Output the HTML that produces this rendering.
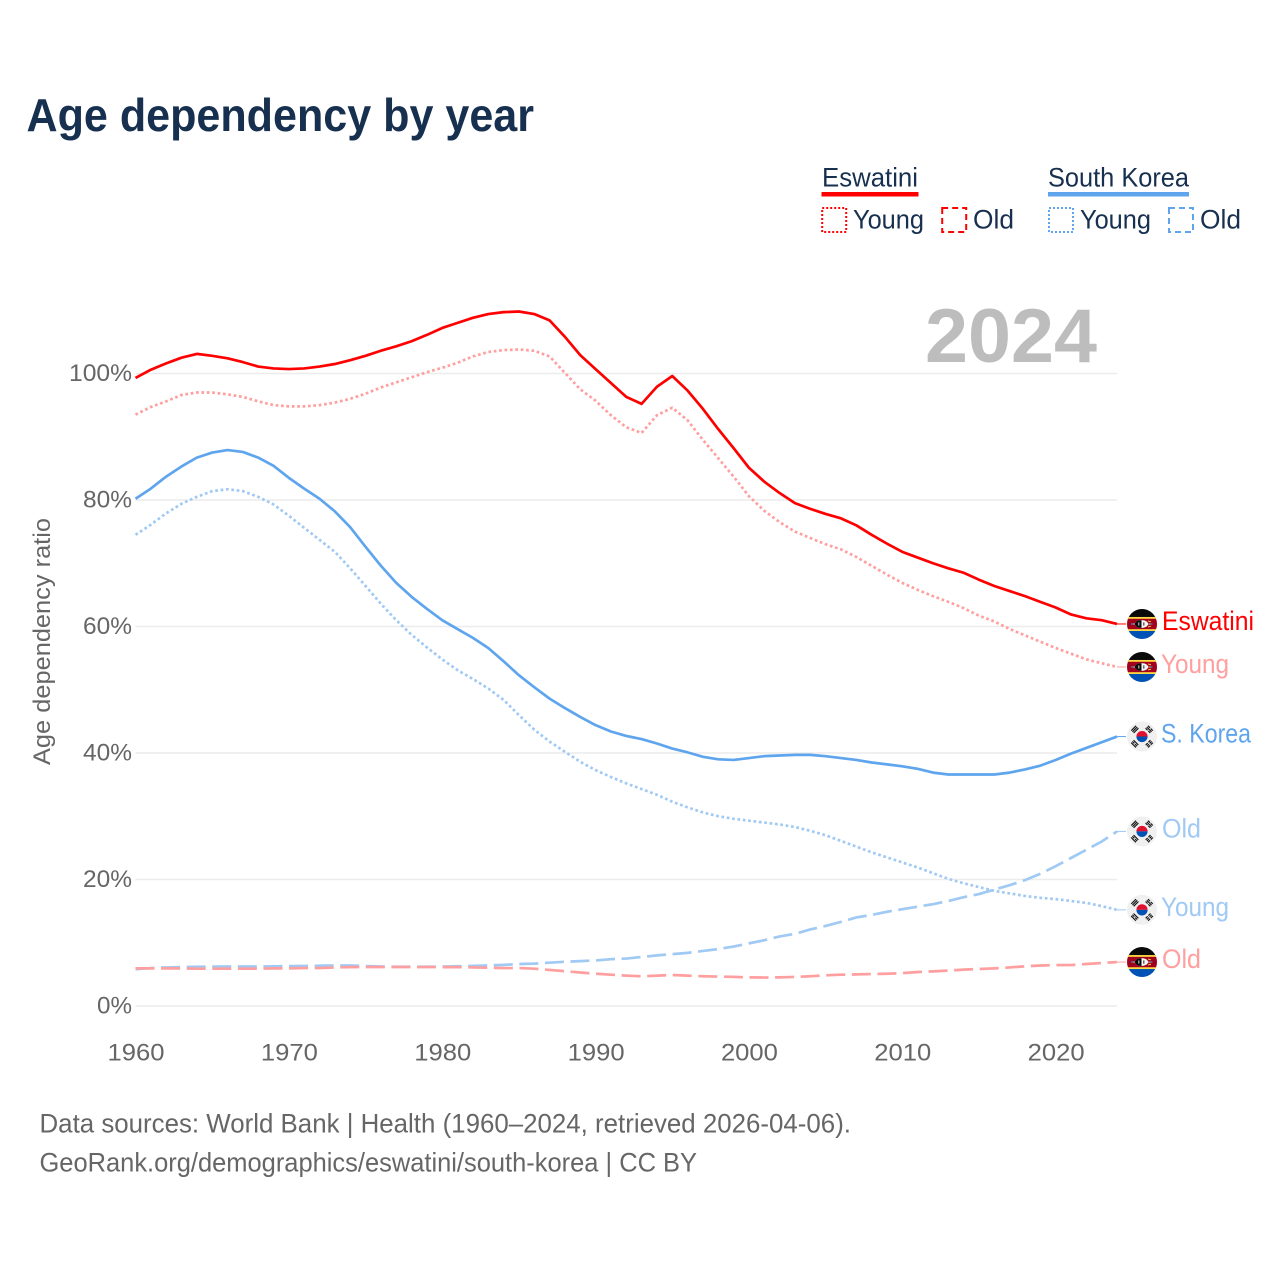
<!DOCTYPE html>
<html lang="en">
<head>
<meta charset="utf-8">
<title>Age dependency by year</title>
<style>
html,body{margin:0;padding:0;background:#fff;width:1280px;height:1280px;overflow:hidden}
svg{display:block;font-family:"Liberation Sans",sans-serif}
</style>
</head>
<body>
<svg id="chart" xmlns="http://www.w3.org/2000/svg" width="1280" height="1280" viewBox="0 0 1280 1280">
<defs>
<clipPath id="flag-clip"><circle cx="0" cy="0" r="15"/></clipPath>
<symbol id="flag-sz" overflow="visible" viewBox="-15 -15 30 30" width="30" height="30">
<g clip-path="url(#flag-clip)">
<rect x="-15" y="-15" width="30" height="9" fill="#0a0a0a"/>
<rect x="-15" y="-7" width="30" height="15" fill="#ffda44"/>
<rect x="-15" y="-5.2" width="30" height="10.4" fill="#a2001d"/>
<rect x="-15" y="7" width="30" height="8" fill="#0052b4"/>
<rect x="-11" y="-0.4" width="21" height="0.9" fill="#f0d080"/>
<ellipse cx="-0.5" cy="0" rx="6.6" ry="3.9" fill="#f5f5f5"/>
<path d="M-0.5-3.9A6.6 3.9 0 0 0-0.5 3.9Z" fill="#0a0a0a"/>
<rect x="-3.6" y="-1.6" width="0.9" height="3.2" fill="#f5f5f5"/>
<rect x="1.4" y="-1.6" width="0.9" height="3.2" fill="#0a0a0a"/>
<circle cx="-10" cy="0" r="1" fill="#2f6ec0"/>
<circle cx="9.6" cy="0" r="1" fill="#2f6ec0"/>
<path d="M6-3 9-2.2M6 3 9 2.2" stroke="#ffda44" stroke-width="0.9"/>
</g>
</symbol>
<symbol id="flag-kr" overflow="visible" viewBox="-15 -15 30 30" width="30" height="30">
<circle cx="0" cy="0" r="15" fill="#f0f0f0"/>
<path d="M-5.6 0A5.6 5.6 0 0 1 5.6 0Z" fill="#e0102f"/>
<path d="M-5.6 0A5.6 5.6 0 0 0 5.6 0Z" fill="#0052b4"/>
<g fill="#111111">
<g transform="rotate(-45) translate(0 -10.2)"><rect x="-3.4" y="-2.2" width="6.8" height="1.15"/><rect x="-3.4" y="-0.5" width="6.8" height="1.15"/><rect x="-3.4" y="1.2" width="6.8" height="1.15"/></g>
<g transform="rotate(45) translate(0 -10.2)"><rect x="-3.4" y="-2.2" width="2.9" height="1.15"/><rect x="0.5" y="-2.2" width="2.9" height="1.15"/><rect x="-3.4" y="-0.5" width="6.8" height="1.15"/><rect x="-3.4" y="1.2" width="2.9" height="1.15"/><rect x="0.5" y="1.2" width="2.9" height="1.15"/></g>
<g transform="rotate(-45) translate(0 10.2)"><rect x="-3.4" y="-2.2" width="2.9" height="1.15"/><rect x="0.5" y="-2.2" width="2.9" height="1.15"/><rect x="-3.4" y="-0.5" width="2.9" height="1.15"/><rect x="0.5" y="-0.5" width="2.9" height="1.15"/><rect x="-3.4" y="1.2" width="2.9" height="1.15"/><rect x="0.5" y="1.2" width="2.9" height="1.15"/></g>
<g transform="rotate(45) translate(0 10.2)"><rect x="-3.4" y="-2.2" width="6.8" height="1.15"/><rect x="-3.4" y="-0.5" width="2.9" height="1.15"/><rect x="0.5" y="-0.5" width="2.9" height="1.15"/><rect x="-3.4" y="1.2" width="6.8" height="1.15"/></g>
</g>
</symbol>
</defs>

<text x="26.5" y="131" font-size="46" font-weight="700" fill="#17304f" textLength="507.5" lengthAdjust="spacingAndGlyphs">Age dependency by year</text>

<g font-size="26.5" fill="#17304f">
<g>
<text x="822" y="186.5" textLength="96" lengthAdjust="spacingAndGlyphs">Eswatini</text>
<rect x="821.5" y="192" width="97" height="4.5" fill="#ff0000"/>
<rect x="822.2" y="208" width="24" height="24" fill="none" stroke="#ff0000" stroke-width="2" stroke-dasharray="2 2"/>
<text x="853" y="228.5" textLength="71" lengthAdjust="spacingAndGlyphs">Young</text>
<rect x="942.2" y="208" width="24" height="24" fill="none" stroke="#ff0000" stroke-width="2" stroke-dasharray="6 4"/>
<text x="973" y="228.5" textLength="41" lengthAdjust="spacingAndGlyphs">Old</text>
</g>
<g>
<text x="1048" y="186.5" textLength="141" lengthAdjust="spacingAndGlyphs">South Korea</text>
<rect x="1048" y="192" width="141" height="4.5" fill="#5fa5ee"/>
<rect x="1049" y="208" width="24" height="24" fill="none" stroke="#5fa5ee" stroke-width="2" stroke-dasharray="2 2"/>
<text x="1080" y="228.5" textLength="71" lengthAdjust="spacingAndGlyphs">Young</text>
<rect x="1169" y="208" width="24" height="24" fill="none" stroke="#5fa5ee" stroke-width="2" stroke-dasharray="6 4"/>
<text x="1200" y="228.5" textLength="41" lengthAdjust="spacingAndGlyphs">Old</text>
</g>
</g>

<text transform="translate(50 641.5) rotate(-90)" text-anchor="middle" font-size="24.5" fill="#666666" textLength="247" lengthAdjust="spacingAndGlyphs">Age dependency ratio</text>

<g id="grid"></g>
<g id="y-ticks"></g>
<g id="x-ticks"></g>

<text x="925" y="362" font-size="76" font-weight="700" fill="#bdbdbd" textLength="172" lengthAdjust="spacingAndGlyphs">2024</text>

<g id="series"></g>
<g id="end-labels"></g>

<g font-size="26.5" fill="#666666">
<text x="39.5" y="1132.5" textLength="811.5" lengthAdjust="spacingAndGlyphs">Data sources: World Bank | Health (1960–2024, retrieved 2026-04-06).</text>
<text x="39.5" y="1171.5" textLength="657.5" lengthAdjust="spacingAndGlyphs">GeoRank.org/demographics/eswatini/south-korea | CC BY</text>
</g>
</svg>

<script>
const years = [1960,1961,1962,1963,1964,1965,1966,1967,1968,1969,1970,1971,1972,1973,1974,1975,1976,1977,1978,1979,1980,1981,1982,1983,1984,1985,1986,1987,1988,1989,1990,1991,1992,1993,1994,1995,1996,1997,1998,1999,2000,2001,2002,2003,2004,2005,2006,2007,2008,2009,2010,2011,2012,2013,2014,2015,2016,2017,2018,2019,2020,2021,2022,2023,2024];
const xTickLabels = [1960,1970,1980,1990,2000,2010,2020];
const yTickLabels = [0,20,40,60,80,100];

const eswatiniTotal = [99.3,100.6,101.6,102.5,103.1,102.8,102.4,101.8,101.1,100.8,100.7,100.8,101.1,101.5,102.1,102.8,103.6,104.3,105.1,106.1,107.2,108,108.8,109.4,109.7,109.8,109.4,108.4,105.8,102.9,100.7,98.5,96.3,95.2,97.9,99.6,97.3,94.4,91.2,88.2,85.1,82.9,81.1,79.5,78.6,77.8,77.1,76,74.5,73.1,71.8,70.9,70,69.2,68.5,67.4,66.4,65.6,64.8,63.9,63,61.9,61.3,61,60.4];
const eswatiniYoung = [93.5,94.7,95.6,96.6,97,97,96.7,96.3,95.6,95,94.8,94.8,95,95.4,96,96.8,97.8,98.6,99.4,100.2,100.9,101.7,102.7,103.4,103.7,103.8,103.6,102.7,100.1,97.5,95.7,93.4,91.5,90.6,93.4,94.6,92.6,89.5,86.6,83.7,80.6,78.3,76.5,75,74,73,72.2,71,69.6,68.2,66.9,65.8,64.8,63.9,62.9,61.7,60.8,59.6,58.6,57.6,56.6,55.7,54.8,54.2,53.6];
const eswatiniOld = [5.95,5.95,5.95,5.95,5.9,5.9,5.9,5.9,5.9,5.95,5.95,6,6,6.1,6.15,6.17,6.17,6.17,6.17,6.17,6.15,6.15,6.1,6.05,6,6,5.9,5.7,5.5,5.3,5.1,4.95,4.8,4.7,4.8,4.9,4.8,4.7,4.65,4.6,4.53,4.5,4.53,4.6,4.7,4.85,4.95,5,5.05,5.1,5.2,5.37,5.48,5.6,5.75,5.85,5.95,6.1,6.27,6.4,6.47,6.47,6.64,6.8,6.95];
const koreaTotal = [80.2,81.8,83.7,85.3,86.7,87.5,87.9,87.6,86.7,85.4,83.5,81.8,80.2,78.2,75.7,72.6,69.6,66.9,64.7,62.8,61,59.6,58.2,56.6,54.5,52.3,50.4,48.6,47.1,45.7,44.4,43.4,42.7,42.2,41.5,40.7,40.1,39.4,39,38.9,39.2,39.5,39.6,39.7,39.7,39.5,39.2,38.9,38.5,38.2,37.9,37.5,36.9,36.6,36.6,36.6,36.6,36.9,37.4,38,38.9,39.9,40.8,41.7,42.6];
const koreaYoung = [74.5,76.1,77.9,79.4,80.5,81.4,81.7,81.4,80.5,79.3,77.5,75.6,73.7,71.8,69.2,66.4,63.6,61,58.7,56.7,54.8,53.1,51.7,50.2,48.4,46,43.7,41.8,40.2,38.6,37.3,36.2,35.2,34.3,33.4,32.3,31.4,30.6,30,29.6,29.3,29,28.7,28.3,27.7,27,26.1,25.2,24.3,23.5,22.7,21.9,21,20.1,19.4,18.8,18.2,17.8,17.4,17.1,16.9,16.6,16.3,15.8,15.2];
const koreaOld = [5.8,6,6.1,6.15,6.2,6.22,6.25,6.25,6.25,6.27,6.3,6.33,6.37,6.4,6.4,6.3,6.25,6.2,6.2,6.2,6.22,6.28,6.35,6.42,6.5,6.64,6.7,6.85,7,7.1,7.2,7.4,7.5,7.75,8,8.2,8.4,8.7,9,9.4,9.9,10.4,11,11.4,12.1,12.65,13.3,14,14.4,14.9,15.3,15.7,16.1,16.6,17.2,17.7,18.4,19.1,19.9,20.9,22.1,23.4,24.7,26,27.6];

const SVGNS = 'http://www.w3.org/2000/svg';
function xScale(year){ return 135.5 + (year - 1960) * (1117 - 135.5) / 64; }
function yScale(value){ return 1006 - value * 6.325; }
function make(tag, attrs, parent){
  const el = document.createElementNS(SVGNS, tag);
  for (const k in attrs) el.setAttribute(k, attrs[k]);
  parent.appendChild(el);
  return el;
}

const gridG = document.getElementById('grid');
const yG = document.getElementById('y-ticks');
yTickLabels.forEach(function(v){
  const line = make('line', {x1:135.5, x2:1117, y1:yScale(v), y2:yScale(v), stroke:'#ececec', 'stroke-width':1.4}, gridG);
  
  
  const s = v + '%';
  const w = (s.length - 1) * 14 + 21;
  const t = make('text', {x:132 - w, y:yScale(v) + 7.5, 'font-size':24.5, fill:'#666666', textLength:w, lengthAdjust:'spacingAndGlyphs'}, yG);
  
  
  t.textContent = s;
});

const xG = document.getElementById('x-ticks');
xTickLabels.forEach(function(v){
  const t = make('text', {x:xScale(v) - 28, y:1060.5, 'font-size':24.5, fill:'#666666', textLength:57, lengthAdjust:'spacingAndGlyphs'}, xG);
  
  
  t.textContent = String(v);
});

const seriesG = document.getElementById('series');
function drawSeries(name, values, color, width, dash){
  const d = values.map(function(v, i){
    return (i ? 'L' : 'M') + xScale(years[i]).toFixed(2) + ' ' + yScale(v).toFixed(2);
  }).join('');
  const attrs = {d:d, fill:'none', stroke:color, 'stroke-width':width, 'stroke-linejoin':'round'};
  if (dash) attrs['stroke-dasharray'] = dash;
  const p = make('path', attrs, seriesG);
  
  
  const lastY = yScale(values[values.length - 1]);
  const c = make('line', {x1:xScale(2024), x2:1126, y1:lastY, y2:lastY, stroke:color, 'stroke-width':1}, seriesG);
  
  
}
const DOT = '2.7 2.7';
const DASH = '19 6.6';
drawSeries('line-south-korea-old', koreaOld, '#a0c9f4', 2.7, DASH);
drawSeries('line-eswatini-old', eswatiniOld, '#ff9f9f', 2.7, DASH);
drawSeries('line-south-korea-young', koreaYoung, '#a0c9f4', 2.7, DOT);
drawSeries('line-eswatini-young', eswatiniYoung, '#ff9f9f', 2.7, DOT);
drawSeries('line-south-korea-total', koreaTotal, '#5fa5ee', 2.7);
drawSeries('line-eswatini-total', eswatiniTotal, '#ff0000', 2.7);

const endG = document.getElementById('end-labels');
function endLabel(name, values, flag, text, color, labelX, labelW){
  const y = yScale(values[values.length - 1]);
  const u = make('use', {href:'#' + flag, x:1127, y:y - 15, width:30, height:30}, endG);
  
  
  const t = make('text', {x:labelX, y:y + 6, 'font-size':26.5, fill:color, textLength:labelW, lengthAdjust:'spacingAndGlyphs'}, endG);
  
  
  t.textContent = text;
}
endLabel('end-eswatini-total', eswatiniTotal, 'flag-sz', 'Eswatini', '#ff0000', 1162, 92);
endLabel('end-eswatini-young', eswatiniYoung, 'flag-sz', 'Young', '#ff9f9f', 1161, 68);
endLabel('end-south-korea-total', koreaTotal, 'flag-kr', 'S. Korea', '#5fa5ee', 1161, 90);
endLabel('end-south-korea-old', koreaOld, 'flag-kr', 'Old', '#a0c9f4', 1162, 39);
endLabel('end-south-korea-young', koreaYoung, 'flag-kr', 'Young', '#a0c9f4', 1161, 68);
endLabel('end-eswatini-old', eswatiniOld, 'flag-sz', 'Old', '#ff9f9f', 1162, 39);
</script>
</body>
</html>
